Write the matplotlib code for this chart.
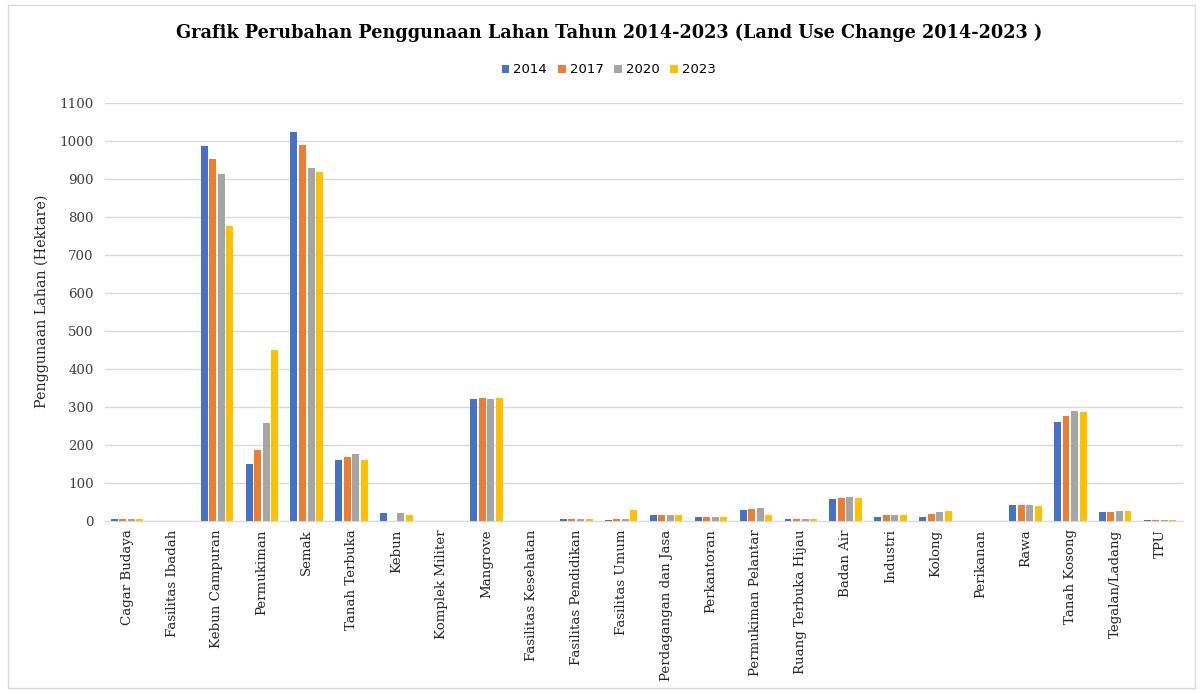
import numpy as np
import matplotlib
matplotlib.use("Agg")
import matplotlib.pyplot as plt
from matplotlib.patches import Rectangle

# ------------------------------------------------------------
# Data (hektare)
# ------------------------------------------------------------
categories = [
    "Cagar Budaya", "Fasilitas Ibadah", "Kebun Campuran", "Permukiman", "Semak",
    "Tanah Terbuka", "Kebun", "Komplek Militer", "Mangrove", "Fasilitas Kesehatan",
    "Fasilitas Pendidikan", "Fasilitas Umum", "Perdagangan dan Jasa", "Perkantoran",
    "Permukiman Pelantar", "Ruang Terbuka Hijau", "Badan Air", "Industri", "Kolong",
    "Perikanan", "Rawa", "Tanah Kosong", "Tegalan/Ladang", "TPU",
]
years = ["2014", "2017", "2020", "2023"]

v2014 = [5, 0, 987, 150, 1024, 162, 22, 0, 322, 0, 6, 2, 16, 10, 29, 5, 58, 10, 12, 0, 43, 261, 25, 3]
v2017 = [5, 0, 953, 187, 989, 168, 0, 0, 323, 0, 6, 5, 16, 10, 33, 6, 60, 17, 20, 0, 43, 277, 24, 3]
v2020 = [5, 0, 913, 258, 929, 176, 22, 0, 321, 0, 6, 5, 16, 10, 34, 6, 63, 17, 24, 0, 43, 291, 27, 3]
v2023 = [5, 0, 776, 450, 918, 160, 17, 0, 323, 0, 6, 28, 16, 10, 15, 6, 61, 17, 27, 0, 40, 287, 27, 3]

colors = ["#4472C4", "#ED7D31", "#A5A5A5", "#FFC000"]
SERIF = ["DejaVu Serif", "Liberation Serif"]

# ------------------------------------------------------------
# Plot
# ------------------------------------------------------------
fig = plt.figure(figsize=(12.03, 6.93), dpi=100)
ax = fig.add_axes([0.087, 0.248, 0.896, 0.603])

x = np.arange(len(categories))
step = 0.19
width = 0.155
for i, (vals, label) in enumerate(zip([v2014, v2017, v2020, v2023], years)):
    ax.bar(x + (i - 1.5) * step, vals, width=width, color=colors[i], label=label, zorder=3)

ax.set_xlim(-0.5, len(categories) - 0.5)
ax.set_ylim(0, 1100)
ax.set_yticks(np.arange(0, 1101, 100))
ax.grid(axis="y", color="#D9D9D9", linewidth=1, zorder=0)

ax.set_xticks(x)
ax.set_xticklabels(categories, rotation=90, family=SERIF, fontsize=9.6, color="#262626")
ax.tick_params(axis="x", length=0, pad=6)
ax.tick_params(axis="y", length=0, pad=8, labelsize=9.6, labelcolor="#404040")
for lbl in ax.get_yticklabels():
    lbl.set_family(SERIF)

for side in ["top", "right", "left"]:
    ax.spines[side].set_visible(False)
ax.spines["bottom"].set_color("#D9D9D9")

ax.set_ylabel("Penggunaan Lahan (Hektare)", family=SERIF, fontsize=10.3, color="#262626")
ax.yaxis.set_label_coords(-0.052, 0.527)

fig.text(0.506, 0.952, "Grafik Perubahan Penggunaan Lahan Tahun 2014-2023 (Land Use Change 2014-2023 )",
         ha="center", va="center", family=SERIF, fontweight="bold", fontsize=12.7)

fig.legend(loc="center", bbox_to_anchor=(0.506, 0.899), ncol=4, frameon=False,
           handlelength=0.6, handleheight=0.6, handletextpad=0.3, columnspacing=0.8,
           prop={"family": "Liberation Sans Narrow", "size": 9.5})

fig.patches.append(Rectangle((0.007, 0.007), 0.986, 0.986, transform=fig.transFigure,
                             fill=False, edgecolor="#D9D9D9", linewidth=1))

fig.savefig("out.png", dpi=100)
